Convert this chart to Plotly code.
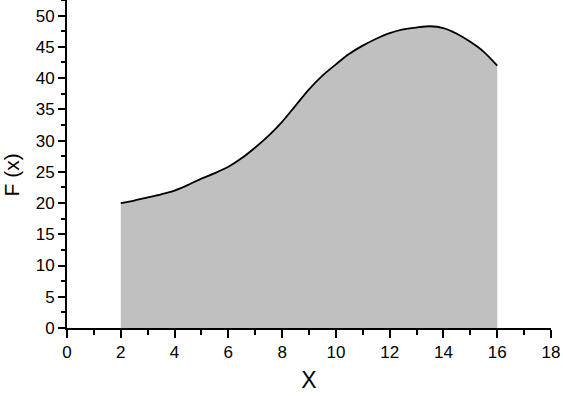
import plotly.graph_objects as go

x_vals = [2, 2.5, 3, 3.5, 4, 4.5, 5, 5.5, 6, 6.5, 7, 7.5, 8, 8.5, 9, 9.5,
          10, 10.5, 11, 11.5, 12, 12.5, 13, 13.5, 14, 14.5, 15, 15.5, 16]
f_vals = [20.0, 20.4, 20.9, 21.4, 22.0, 22.9, 23.9, 24.8, 25.8, 27.2, 28.9, 30.8,
          33.0, 35.6, 38.2, 40.4, 42.2, 43.9, 45.2, 46.3, 47.2, 47.8, 48.1, 48.3,
          48.0, 47.1, 45.8, 44.2, 42.0]

x_ticks = list(range(0, 19, 2))
y_ticks = list(range(0, 51, 5))

fig = go.Figure()
fig.add_trace(go.Scatter(
    x=x_vals, y=f_vals, mode="lines",
    line=dict(color="black", width=1.8, shape="spline", smoothing=0.8),
    fill="tozeroy", fillcolor="#c0c0c0",
    showlegend=False, hoverinfo="skip",
))

font_family = "Liberation Sans, Arial, Helvetica, sans-serif"

fig.update_layout(
    width=563, height=396,
    margin=dict(l=67, r=12, t=0, b=68),
    paper_bgcolor="white", plot_bgcolor="white",
    font=dict(family=font_family, color="black", size=17),
    xaxis=dict(
        range=[0, 18], tickvals=x_ticks, ticktext=[str(v) for v in x_ticks],
        showgrid=False, zeroline=False,
        showline=True, linecolor="black", linewidth=2,
        ticks="outside", ticklen=8, tickwidth=2, tickcolor="black",
        tickfont=dict(size=17),
        minor=dict(dtick=1, tick0=0, ticks="outside", ticklen=5, tickwidth=2,
                   tickcolor="black", showgrid=False),
        title=dict(text="X", font=dict(size=23), standoff=10),
    ),
    yaxis=dict(
        range=[0, 52.5], tickvals=y_ticks, ticktext=[str(v) for v in y_ticks],
        showgrid=False, zeroline=False,
        showline=True, linecolor="black", linewidth=2,
        ticks="outside", ticklen=7, tickwidth=2, tickcolor="black",
        tickfont=dict(size=17),
        minor=dict(dtick=2.5, tick0=0, ticks="outside", ticklen=4, tickwidth=2,
                   tickcolor="black", showgrid=False),
    ),
    annotations=[dict(
        text="F (x)", textangle=-90, showarrow=False,
        xref="paper", yref="paper", x=-0.115, y=0.466,
        xanchor="center", yanchor="middle",
        font=dict(size=21, family=font_family, color="black"),
    )],
)

fig.write_html("out.html")
